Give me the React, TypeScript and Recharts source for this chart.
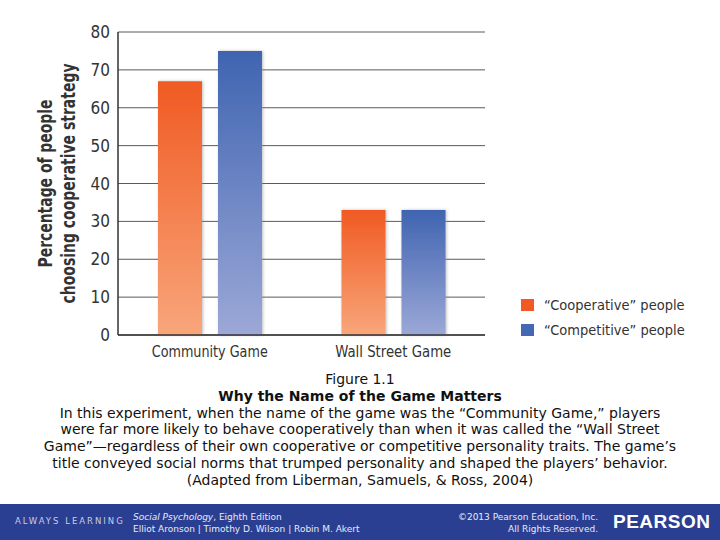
import { Bar, BarChart, CartesianGrid, Label, XAxis, YAxis } from "recharts";

const categories = ["Community Game", "Wall Street Game"];
const cooperative = [67, 33];
const competitive = [75, 33];
const seriesNames = ["\u201CCooperative\u201D people", "\u201CCompetitive\u201D people"];
const seriesColors = ["#f15a22", "#4468b3"];
const yTicks = [0, 10, 20, 30, 40, 50, 60, 70, 80];

const data = categories.map((name, i) => ({
  name,
  cooperative: cooperative[i],
  competitive: competitive[i],
}));

const narrow = "'Liberation Sans Narrow', 'DejaVu Sans Condensed', 'Open Sans', sans-serif";

function YLabel(props: any) {
  const vb = props.viewBox || { x: 58, y: 32, width: 60, height: 303 };
  const cy = vb.y + vb.height / 2;
  const x1 = vb.x - 13;
  const x2 = vb.x + 10;
  const style = { fontFamily: narrow, fontSize: 19, fontWeight: 700, fill: "#333" };
  return (
    <g>
      <text x={x1} y={cy} transform={`rotate(-90 ${x1} ${cy})`} textAnchor="middle" dominantBaseline="central"
        textLength={168} lengthAdjust="spacingAndGlyphs" style={style}>
        Percentage of people
      </text>
      <text x={x2} y={cy} transform={`rotate(-90 ${x2} ${cy})`} textAnchor="middle" dominantBaseline="central"
        textLength={240} lengthAdjust="spacingAndGlyphs" style={style}>
        choosing cooperative strategy
      </text>
    </g>
  );
}

function XTick(props: any) {
  const { x, y, payload } = props;
  return (
    <text x={x} y={y + 14} textAnchor="middle" textLength={116} lengthAdjust="spacingAndGlyphs"
      style={{ fontFamily: narrow, fontSize: 16, fill: "#333" }}>
      {payload.value}
    </text>
  );
}

function LegendBox() {
  return (
    <div style={{ position: "absolute", left: 521, top: 292, fontFamily: narrow, fontSize: 14.5, color: "#333" }}>
      {seriesNames.map((n, i) => (
        <div key={n} style={{ display: "flex", alignItems: "center", height: 25 }}>
          <span style={{ width: 13, height: 12, background: seriesColors[i], marginRight: 10, display: "inline-block" }} />
          <span>{n}</span>
        </div>
      ))}
    </div>
  );
}

const captionLines = [
  "In this experiment, when the name of the game was the \u201CCommunity Game,\u201D players",
  "were far more likely to behave cooperatively than when it was called the \u201CWall Street",
  "Game\u201D\u2014regardless of their own cooperative or competitive personality traits. The game\u2019s",
  "title conveyed social norms that trumped personality and shaped the players\u2019 behavior.",
  "(Adapted from Liberman, Samuels, & Ross, 2004)",
];

export default function App() {
  return (
    <div style={{ position: "absolute", left: 0, top: 0, width: 720, height: 540, background: "#fff", overflow: "hidden" }}>
      <BarChart
        width={720}
        height={370}
        data={data}
        margin={{ top: 32, right: 235, left: 58, bottom: 5 }}
        barGap={16}
        barSize={44}
      >
        <defs>
          <linearGradient id="orangeFill" x1="0" y1="0" x2="0" y2="1">
            <stop offset="0%" stopColor="#f05a22" />
            <stop offset="100%" stopColor="#f8a67b" />
          </linearGradient>
          <linearGradient id="blueFill" x1="0" y1="0" x2="0" y2="1">
            <stop offset="0%" stopColor="#3f64b1" />
            <stop offset="100%" stopColor="#9ca8d7" />
          </linearGradient>
          <filter id="barShadow" x="-20%" y="-10%" width="140%" height="120%">
            <feDropShadow dx="1" dy="0" stdDeviation="1.5" floodColor="#888" floodOpacity="0.55" />
          </filter>
        </defs>
        <CartesianGrid vertical={false} stroke="#5a5a5a" strokeWidth={1} />
        <XAxis
          dataKey="name"
          height={30}
          tickLine={false}
          axisLine={{ stroke: "#333", strokeWidth: 1.5 }}
          tick={<XTick />}
        />
        <YAxis
          width={60}
          domain={[0, 80]}
          ticks={yTicks}
          tickLine={false}
          axisLine={{ stroke: "#333", strokeWidth: 1.5 }}
          tick={{ fontFamily: narrow, fontSize: 17, fill: "#333" }}
          tickMargin={2}
        >
          <Label content={<YLabel />} />
        </YAxis>
        <YAxis
          yAxisId="right"
          orientation="right"
          width={0}
          domain={[0, 80]}
          tick={false}
          tickLine={false}
          axisLine={{ stroke: "#444", strokeWidth: 1 }}
        />
        <Bar dataKey="cooperative" name={seriesNames[0]} fill="url(#orangeFill)" filter="url(#barShadow)" isAnimationActive={false} />
        <Bar dataKey="competitive" name={seriesNames[1]} fill="url(#blueFill)" filter="url(#barShadow)" isAnimationActive={false} />
      </BarChart>
      <LegendBox />
      <div
        style={{
          position: "absolute",
          top: 371,
          left: 0,
          width: 720,
          textAlign: "center",
          fontFamily: "'DejaVu Sans', Verdana, sans-serif",
          fontSize: 14,
          lineHeight: "16.8px",
          color: "#111",
        }}
      >
        <div>Figure 1.1</div>
        <div style={{ fontWeight: 700 }}>Why the Name of the Game Matters</div>
        {captionLines.map((l) => (
          <div key={l}>{l}</div>
        ))}
      </div>
      <div
        style={{
          position: "absolute",
          top: 504,
          left: 0,
          width: 720,
          height: 36,
          background: "#2b3f92",
          fontFamily: "'DejaVu Sans', sans-serif",
          color: "#e8eaf4",
        }}
      >
        <div style={{ position: "absolute", left: 15, top: 12, fontSize: 8.5, letterSpacing: 2, color: "#c9cde3" }}>
          ALWAYS LEARNING
        </div>
        <div style={{ position: "absolute", left: 133, top: 7, fontSize: 9, lineHeight: "12px" }}>
          <div>
            <i>Social Psychology</i>, Eighth Edition
          </div>
          <div>Elliot Aronson | Timothy D. Wilson | Robin M. Akert</div>
        </div>
        <div style={{ position: "absolute", right: 122, top: 7, fontSize: 9, lineHeight: "12px", textAlign: "right" }}>
          <div>&copy;2013 Pearson Education, Inc.</div>
          <div>All Rights Reserved.</div>
        </div>
        <div
          style={{
            position: "absolute",
            left: 613,
            top: 7,
            fontSize: 19,
            fontWeight: 700,
            letterSpacing: 0.5,
            color: "#fff",
            fontFamily: "'Liberation Sans', sans-serif",
          }}
        >
          PEARSON
        </div>
      </div>
    </div>
  );
}
